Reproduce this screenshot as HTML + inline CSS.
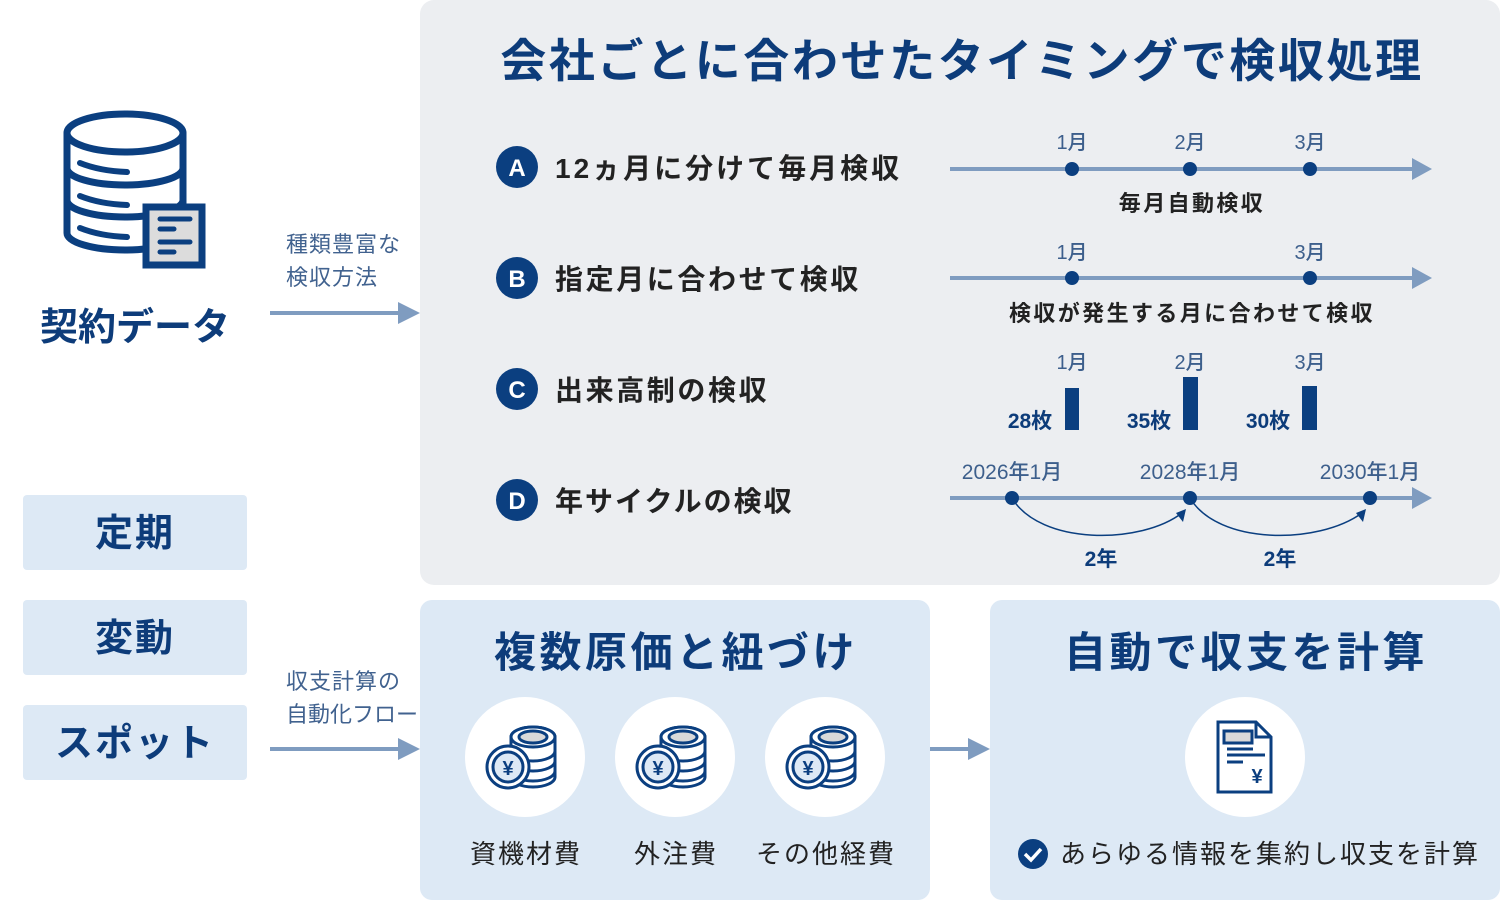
<!DOCTYPE html>
<html><head><meta charset="utf-8"><style>
html,body{margin:0;padding:0;background:#fff;}
svg{display:block;}
text{font-family:"Liberation Sans","Noto Sans CJK JP",sans-serif;}
</style></head><body>
<svg width="1500" height="900" viewBox="0 0 1500 900" xmlns="http://www.w3.org/2000/svg">
<defs>
<g id="coin">
 <circle cx="0" cy="0" r="60" fill="#fff"/>
 <g fill="#fff" stroke="#0b3f80" stroke-width="3">
  <path d="M-14,20 v-40 a22,10 0 0 1 44,0 v40 a22,10 0 0 1 -44,0z"/>
  <ellipse cx="8" cy="-20" rx="22" ry="10"/>
  <ellipse cx="8" cy="-20" rx="14" ry="6" fill="#d9d9d9"/>
  <path d="M-14,-6 a22,10 0 0 0 44,0 M-14,4 a22,10 0 0 0 44,0 M-14,14 a22,10 0 0 0 44,0"/>
  <circle cx="-17" cy="10" r="21"/>
  <circle cx="-17" cy="10" r="15" fill="#dde9f5"/>
 </g>
 <text x="-17" y="18" font-size="20" font-weight="bold" fill="#0b3f80" text-anchor="middle">¥</text>
</g>
</defs>

<rect x="420" y="0" width="1080" height="585" rx="14" fill="#eceef1"/>
<text x="962" y="77" font-size="46" font-weight="bold" fill="#0d3c7a" text-anchor="middle" letter-spacing="2.6">会社ごとに合わせたタイミングで検収処理</text>

<g font-size="28" font-weight="bold" fill="#222">
 <circle cx="517" cy="167" r="21" fill="#0b3f80"/><text x="517" y="176" fill="#fff" font-size="24" text-anchor="middle">A</text>
 <text x="555" y="178" letter-spacing="3">12ヵ月に分けて毎月検収</text>
 <circle cx="517" cy="278" r="21" fill="#0b3f80"/><text x="517" y="287" fill="#fff" font-size="24" text-anchor="middle">B</text>
 <text x="555" y="289" letter-spacing="2.6">指定月に合わせて検収</text>
 <circle cx="517" cy="389" r="21" fill="#0b3f80"/><text x="517" y="398" fill="#fff" font-size="24" text-anchor="middle">C</text>
 <text x="555" y="400" letter-spacing="2.6">出来高制の検収</text>
 <circle cx="517" cy="500" r="21" fill="#0b3f80"/><text x="517" y="509" fill="#fff" font-size="24" text-anchor="middle">D</text>
 <text x="555" y="511" letter-spacing="2">年サイクルの検収</text>
</g>

<g stroke="#7f9cc0" stroke-width="4" fill="#7f9cc0">
 <line x1="950" y1="169" x2="1416" y2="169"/><path d="M1412,158 L1432,169 L1412,180z" stroke="none"/>
 <line x1="950" y1="278" x2="1416" y2="278"/><path d="M1412,267 L1432,278 L1412,289z" stroke="none"/>
 <line x1="950" y1="498" x2="1416" y2="498"/><path d="M1412,487 L1432,498 L1412,509z" stroke="none"/>
</g>
<g fill="#0b3f80">
 <circle cx="1072" cy="169" r="7"/><circle cx="1190" cy="169" r="7"/><circle cx="1310" cy="169" r="7"/>
 <circle cx="1072" cy="278" r="7"/><circle cx="1310" cy="278" r="7"/>
 <circle cx="1012" cy="498" r="7"/><circle cx="1190" cy="498" r="7"/><circle cx="1370" cy="498" r="7"/>
 <rect x="1065" y="388" width="14" height="42"/><rect x="1183" y="377" width="15" height="53"/><rect x="1302" y="386" width="15" height="44"/>
</g>
<g font-size="20" fill="#3d5f8c" text-anchor="middle" font-weight="500">
 <text x="1072" y="149">1月</text><text x="1190" y="149">2月</text><text x="1310" y="149">3月</text>
 <text x="1072" y="259">1月</text><text x="1310" y="259">3月</text>
 <text x="1072" y="369">1月</text><text x="1190" y="369">2月</text><text x="1310" y="369">3月</text>
 <text x="1012" y="479" font-size="21">2026年1月</text><text x="1190" y="479" font-size="21">2028年1月</text><text x="1370" y="479" font-size="21">2030年1月</text>
</g>
<g font-size="22" font-weight="bold" fill="#222" text-anchor="middle" letter-spacing="2.4">
 <text x="1192" y="211">毎月自動検収</text>
 <text x="1192" y="321">検収が発生する月に合わせて検収</text>
</g>
<g font-size="21" font-weight="bold" fill="#0d3c7a" text-anchor="middle">
 <text x="1030" y="428">28枚</text><text x="1149" y="428">35枚</text><text x="1268" y="428">30枚</text>
 <text x="1101" y="566">2年</text><text x="1280" y="566">2年</text>
</g>
<g fill="none" stroke="#0b3f80" stroke-width="1.5">
 <path d="M1012,498 C1040,545 1140,545 1182,513"/>
 <path d="M1190,498 C1218,545 1318,545 1362,513"/>
</g>
<g fill="#0b3f80"><path d="M1186,509 L1183,522 L1176,513z"/><path d="M1366,509 L1363,522 L1356,513z"/></g>

<g fill="none" stroke="#0b3f80" stroke-width="7" stroke-linecap="round">
 <path d="M67,133 v100 a58,17 0 0 0 116,0 v-100"/>
 <ellipse cx="125" cy="133" rx="58" ry="19" fill="#fff"/>
 <path d="M67,168 a58,17 0 0 0 116,0 M67,200 a58,17 0 0 0 116,0"/>
 <path d="M80,163 q20,8 47,9 M80,196 q20,8 47,9 M80,228 q20,8 47,9" stroke-width="6"/>
</g>
<rect x="146" y="207" width="56" height="58" fill="#dcdcdc" stroke="#0b3f80" stroke-width="7"/>
<g stroke="#0b3f80" stroke-width="5" stroke-linecap="round">
 <line x1="160" y1="219" x2="190" y2="219"/><line x1="160" y1="229" x2="174" y2="229"/>
 <line x1="160" y1="242" x2="190" y2="242"/><line x1="160" y1="252" x2="174" y2="252"/>
</g>
<text x="135" y="340" font-size="38" font-weight="bold" fill="#0d3c7a" text-anchor="middle">契約データ</text>

<g font-size="22" fill="#41628f" letter-spacing="1">
 <text x="286" y="252">種類豊富な</text><text x="286" y="285">検収方法</text>
 <text x="286" y="689">収支計算の</text><text x="286" y="722" letter-spacing="0">自動化フロー</text>
</g>
<g stroke="#7f9cc0" stroke-width="4" fill="#7f9cc0">
 <line x1="270" y1="313" x2="402" y2="313"/><path d="M398,302 L420,313 L398,324z" stroke="none"/>
 <line x1="270" y1="749" x2="402" y2="749"/><path d="M398,738 L420,749 L398,760z" stroke="none"/>
 <line x1="930" y1="749" x2="972" y2="749"/><path d="M968,738 L990,749 L968,760z" stroke="none"/>
</g>

<g fill="#dde9f5">
 <rect x="23" y="495" width="224" height="75" rx="4"/>
 <rect x="23" y="600" width="224" height="75" rx="4"/>
 <rect x="23" y="705" width="224" height="75" rx="4"/>
 <rect x="420" y="600" width="510" height="300" rx="12"/>
 <rect x="990" y="600" width="510" height="300" rx="12"/>
</g>
<g font-size="38" font-weight="bold" fill="#0d3c7a" text-anchor="middle" letter-spacing="2">
 <text x="135" y="546">定期</text><text x="135" y="651">変動</text><text x="135" y="756">スポット</text>
</g>
<g font-size="42" font-weight="bold" fill="#0d3c7a" text-anchor="middle" letter-spacing="3.5">
 <text x="676" y="667">複数原価と紐づけ</text><text x="1246" y="667">自動で収支を計算</text>
</g>
<use href="#coin" x="525" y="757"/><use href="#coin" x="675" y="757"/><use href="#coin" x="825" y="757"/>
<g font-size="26" fill="#222" text-anchor="middle" letter-spacing="2">
 <text x="526" y="863">資機材費</text><text x="676" y="863">外注費</text><text x="826" y="863">その他経費</text>
</g>

<circle cx="1245" cy="757" r="60" fill="#fff"/>
<g fill="none" stroke="#0b3f80" stroke-width="3">
 <path d="M1218,722 h38 l15,15 v55 h-53z"/><path d="M1256,722 v15 h15"/>
 <rect x="1224" y="731" width="28" height="12" fill="#d9d9d9"/>
 <path d="M1227,749 h26 M1227,755 h38 M1227,762 h16"/>
</g>
<text x="1257" y="783" font-size="20" font-weight="bold" fill="#0b3f80" text-anchor="middle">¥</text>

<circle cx="1033" cy="854" r="15" fill="#0b3f80"/>
<path d="M1025,854 l6,6 l10,-11" fill="none" stroke="#fff" stroke-width="3.5"/>
<text x="1060" y="863" font-size="26" fill="#222" letter-spacing="2">あらゆる情報を集約し収支を計算</text>
</svg>
</body></html>
